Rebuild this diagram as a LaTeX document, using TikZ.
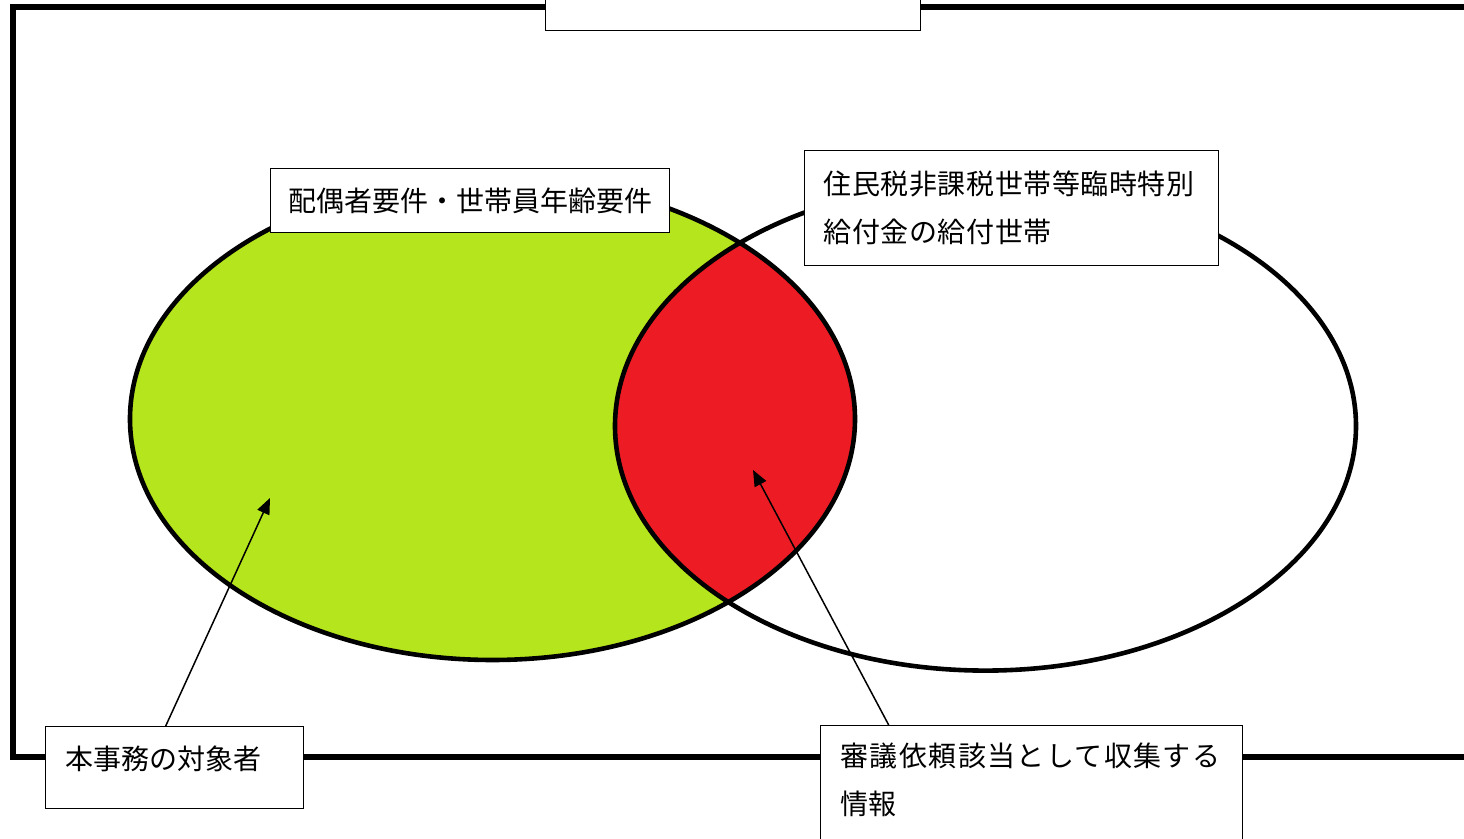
\documentclass[tikz,border=0pt]{standalone}
\usepackage{fontspec}
\newfontfamily\jp{Noto Sans CJK JP}
\usetikzlibrary{arrows.meta}
\definecolor{lime}{HTML}{B5E61D}
\definecolor{vred}{HTML}{ED1C24}
\tikzset{
  lbl/.style={draw=black, line width=0.7pt, fill=white, font=\jp\fontsize{14}{24}\selectfont, inner sep=0pt},
  ptr/.style={draw=black, line width=0.75pt, -{Triangle[length=8pt,width=6.5pt]}},
  setline/.style={line width=2.3pt, draw=black},
}
\begin{document}
\begin{tikzpicture}[x=0.5pt,y=-0.5pt]
\useasboundingbox (0,0) rectangle (1464,839);
\clip (0,0) rectangle (1464,839);
% outer frame
\draw[line width=3pt] (1470,7) -- (13,7) -- (13,757) -- (1470,757);
% top empty box
\node[lbl, anchor=north west, minimum width=187.5pt, minimum height=20pt] (topbox) at (545,-10) {};
% ellipses
\coordinate (cL) at (492.5,419);
\coordinate (cR) at (985.5,426);
\fill[lime] (cL) ellipse [x radius=181.25pt, y radius=120.5pt];
\begin{scope}
  \clip (cR) ellipse [x radius=185.25pt, y radius=122.3pt];
  \fill[vred] (cL) ellipse [x radius=181.25pt, y radius=120.5pt];
\end{scope}
\draw[setline] (cL) ellipse [x radius=181.25pt, y radius=120.5pt];
\draw[setline] (cR) ellipse [x radius=185.25pt, y radius=122.3pt];
% labels
\node[lbl, anchor=north west, minimum width=199.5pt, minimum height=32pt] (b1) at (270,168) {配偶者要件・世帯員年齢要件};
\node[lbl, anchor=north west, minimum width=206.5pt, minimum height=57.5pt, text width=188pt, align=left, inner xsep=9.5pt] (b2) at (804,150) {\addfontfeature{LetterSpace=2}住民税非課税世帯等臨時特別\\給付金の給付世帯};
\node[lbl, anchor=north west, minimum width=129pt, minimum height=41pt] (b3) at (45,726) {};
\node[font=\jp\fontsize{14}{24}\selectfont, anchor=west, inner sep=0pt] (t3) at ([xshift=10pt,yshift=-16.5pt]b3.north west) {本事務の対象者};
\node[lbl, anchor=north west, minimum width=211pt, minimum height=70pt] (b4) at (820,725) {};
\node[font=\jp\fontsize{14}{24}\selectfont, anchor=north west, align=left, inner sep=0pt] (t4) at ([xshift=10pt,yshift=-9pt]b4.north west) {\addfontfeature{LetterSpace=5}審議依頼該当として収集する\\情報};
% arrows
\coordinate (tip1) at (270,498);
\coordinate (tip2) at (753,470);
\draw[ptr] ([xshift=-4.5pt]b3.north) -- (tip1);
\draw[ptr] ([xshift=-71.5pt]b4.north) -- (tip2);
\end{tikzpicture}
\end{document}
